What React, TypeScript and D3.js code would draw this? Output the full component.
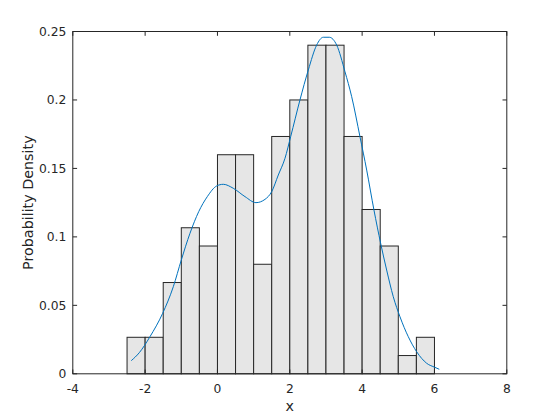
import React from "react";
import * as d3 from "d3";

const binEdges = [-2.5, -2, -1.5, -1, -0.5, 0, 0.5, 1, 1.5, 2, 2.5, 3, 3.5, 4, 4.5, 5, 5.5, 6];
const binCounts = [2, 2, 5, 8, 7, 12, 12, 6, 13, 15, 18, 18, 13, 9, 7, 1, 2];
const sampleSize = 150;

const kdeX = [-2.383, -2.162, -1.866, -1.515, -1.221, -1.0, -0.76, -0.519, -0.281, -0.022, 0.161, 0.437, 0.761, 1.065, 1.314, 1.499, 1.682, 1.867, 2.024, 2.281, 2.512, 2.743, 2.926, 3.092, 3.296, 3.526, 3.711, 3.94, 4.126, 4.327, 4.512, 4.678, 4.861, 5.046, 5.276, 5.508, 5.784, 6.014, 6.133];
const kdeY = [0.0096, 0.0154, 0.0271, 0.0442, 0.0636, 0.0831, 0.1026, 0.1184, 0.1294, 0.1372, 0.1384, 0.1355, 0.1294, 0.125, 0.1274, 0.133, 0.1452, 0.1574, 0.1732, 0.2, 0.2219, 0.2401, 0.2458, 0.2458, 0.2401, 0.2206, 0.2024, 0.1732, 0.1488, 0.1196, 0.0953, 0.0758, 0.0563, 0.0417, 0.0271, 0.0161, 0.0077, 0.0047, 0.0033];

const xTicks = [-4, -2, 0, 2, 4, 6, 8];
const yTicks = [0, 0.05, 0.1, 0.15, 0.2, 0.25];
const yTickLabels = ["0", "0.05", "0.1", "0.15", "0.2", "0.25"];

export default function App() {
  const W = 560, H = 420;
  const left = 72.8, right = 506.8, top = 31.5, bottom = 373.8;
  const x = d3.scaleLinear().domain([-4, 8]).range([left, right]);
  const y = d3.scaleLinear().domain([0, 0.25]).range([bottom, top]);
  const binW = binEdges[1] - binEdges[0];
  const line = d3.line<number>().x((_, i) => x(kdeX[i])).y((d) => y(d)).curve(d3.curveMonotoneX);
  const tl = 4.3;
  const font = "'DejaVu Sans', sans-serif";
  const tc = "#262626";
  return (
    <svg width={W} height={H} style={{ position: "absolute", left: 0, top: 0, background: "#fff" }}>
      <rect x={0} y={0} width={W} height={H} fill="#ffffff" />
      {binCounts.map((c, i) => {
        const dens = c / (sampleSize * binW);
        const x0 = x(binEdges[i]);
        const x1 = x(binEdges[i + 1]);
        return (
          <rect key={i} x={x0} y={y(dens)} width={x1 - x0} height={y(0) - y(dens)} fill="#e6e6e6" stroke="#262626" strokeWidth={1} />
        );
      })}
      <path d={line(kdeY) || ""} fill="none" stroke="#0072BD" strokeWidth={1} />
      <rect x={left} y={top} width={right - left} height={bottom - top} fill="none" stroke={tc} strokeWidth={1} />
      {xTicks.map((t) => (
        <g key={"x" + t}>
          <line x1={x(t)} x2={x(t)} y1={bottom} y2={bottom - tl} stroke={tc} />
          <line x1={x(t)} x2={x(t)} y1={top} y2={top + tl} stroke={tc} />
          <text x={x(t)} y={bottom + 18.8} textAnchor="middle" fontSize={12.3} fontFamily={font} fill={tc}>{String(t)}</text>
        </g>
      ))}
      {yTicks.map((t, i) => (
        <g key={"y" + t}>
          <line x1={left} x2={left + tl} y1={y(t)} y2={y(t)} stroke={tc} />
          <line x1={right} x2={right - tl} y1={y(t)} y2={y(t)} stroke={tc} />
          <text x={left - 6.5} y={y(t) + 4.5} textAnchor="end" fontSize={12.3} fontFamily={font} fill={tc}>{yTickLabels[i]}</text>
        </g>
      ))}
      <text x={(left + right) / 2} y={411.3} textAnchor="middle" fontSize={14.3} fontFamily={font} fill={tc}>x</text>
      <text transform={`translate(33.3, ${(top + bottom) / 2}) rotate(-90)`} textAnchor="middle" fontSize={14.3} fontFamily={font} fill={tc}>Probability Density</text>
    </svg>
  );
}
